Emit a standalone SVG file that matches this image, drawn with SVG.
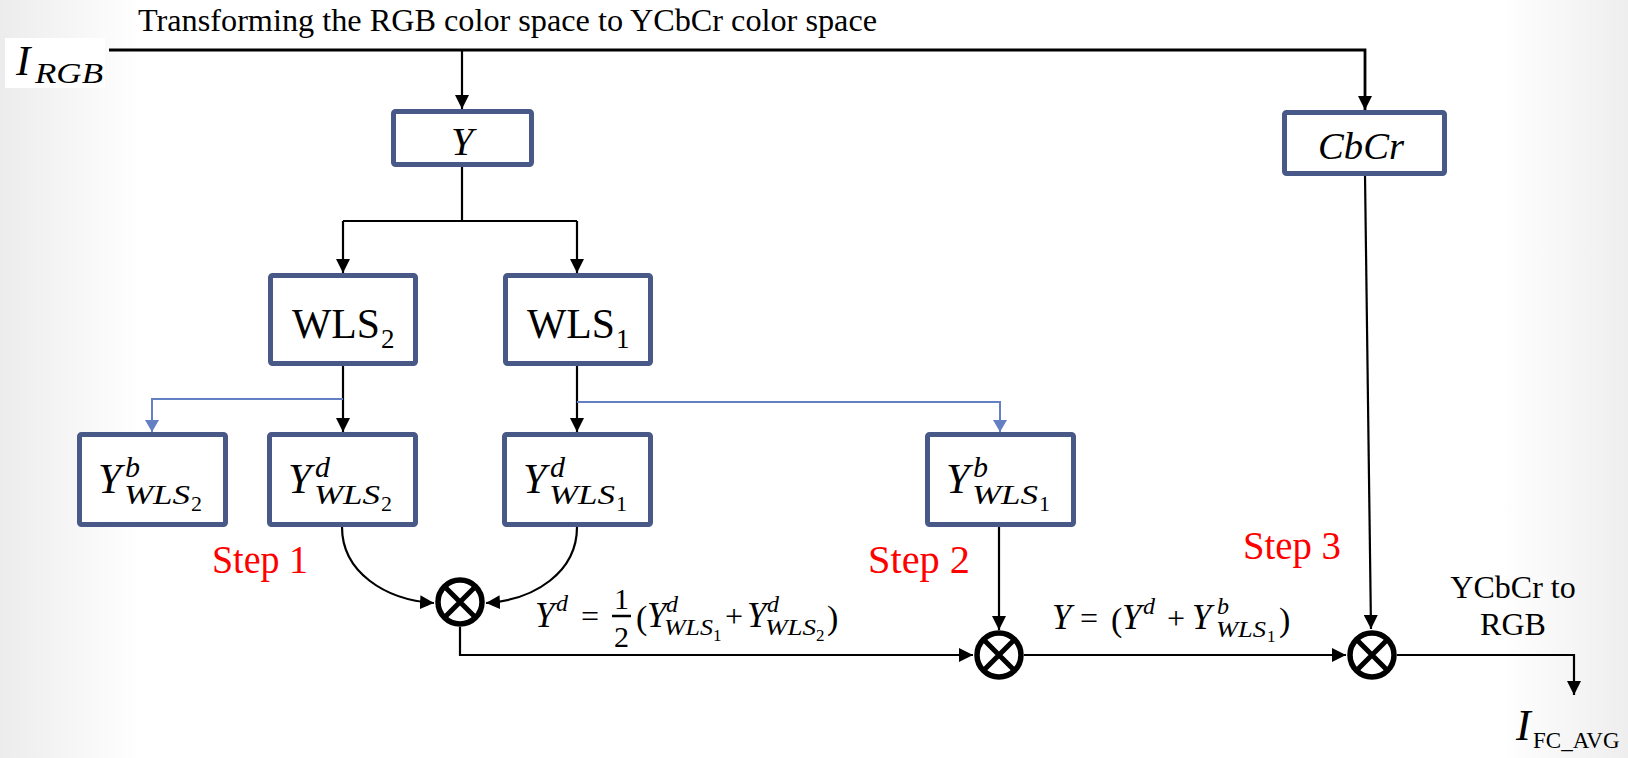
<svg xmlns="http://www.w3.org/2000/svg" width="1628" height="758" viewBox="0 0 1628 758">
<defs>
<linearGradient id="bgL" x1="0" y1="0" x2="1" y2="0">
<stop offset="0" stop-color="#ececec"/>
<stop offset="1" stop-color="#ffffff"/>
</linearGradient>
<linearGradient id="bgR" x1="0" y1="0" x2="1" y2="0">
<stop offset="0" stop-color="#ffffff"/>
<stop offset="1" stop-color="#eeeeee"/>
</linearGradient>
<marker id="ah" viewBox="0 0 14 14" refX="14" refY="7" markerWidth="14" markerHeight="14" markerUnits="userSpaceOnUse" orient="auto">
<path d="M0,0 L14,7 L0,14 z" fill="#000"/>
</marker>
<marker id="ahb" viewBox="0 0 12 14" refX="12" refY="7" markerWidth="12" markerHeight="14" markerUnits="userSpaceOnUse" orient="auto">
<path d="M0,0 L12,7 L0,14 z" fill="#6380C4"/>
</marker>
<style>
.box{fill:#fff;stroke:#485988;stroke-width:5}
.ln{fill:none;stroke:#000;stroke-width:2.2}
.main{fill:none;stroke:#000;stroke-width:2.8}
.bl{fill:none;stroke:#6380C4;stroke-width:2}
.op{fill:#fff;stroke:#000;stroke-width:5.5}
.opx{stroke:#000;stroke-width:5}
text{font-family:"Liberation Serif","Times New Roman",serif;fill:#000}
.it{font-style:italic}
.step{font-size:39px;fill:#ff0000}
.yb{font-size:42px;font-style:italic}
.ys{font-size:30px;font-style:italic}
.yw{font-size:27px;font-style:italic}
.yn{font-size:22px}
</style>
</defs>
<rect x="0" y="0" width="1628" height="758" fill="#fff"/>
<rect x="0" y="0" width="140" height="758" fill="url(#bgL)"/>
<rect x="1500" y="0" width="128" height="758" fill="url(#bgR)"/>
<rect x="5" y="38" width="100" height="50" fill="#fff"/>

<g id="connectors">
<path class="main" d="M109,50 H1365 V110" marker-end="url(#ah)"/>
<path class="ln" d="M462,50 V109" marker-end="url(#ah)"/>
<path class="ln" d="M462,167 V221 M343,221 H577"/>
<path class="ln" d="M343,221 V273" marker-end="url(#ah)"/>
<path class="ln" d="M577,221 V273" marker-end="url(#ah)"/>
<path class="ln" d="M343,366 V432" marker-end="url(#ah)"/>
<path class="bl" d="M343,399 H152 V432" marker-end="url(#ahb)"/>
<path class="ln" d="M577,366 V432" marker-end="url(#ah)"/>
<path class="bl" d="M577,402 H1000 V432" marker-end="url(#ahb)"/>
<path class="ln" d="M342,527 C342,572 385,600 434,603" marker-end="url(#ah)"/>
<path class="ln" d="M577,527 C577,572 535,600 486,603" marker-end="url(#ah)"/>
<path class="ln" d="M460,627 V655 H973" marker-end="url(#ah)"/>
<path class="ln" d="M999,527 V630" marker-end="url(#ah)"/>
<path class="ln" d="M1024,655 H1346" marker-end="url(#ah)"/>
<path class="ln" d="M1365,175 L1371,629" marker-end="url(#ah)"/>
<path class="ln" d="M1397,655 H1574 V695" marker-end="url(#ah)"/>
</g>

<g id="title"><text x="138" y="31" font-size="31" textLength="739" lengthAdjust="spacingAndGlyphs">Transforming the RGB color space to YCbCr  color space</text></g>
<g id="input"><text x="16" y="75" class="it" font-size="43">I<tspan x="35" y="83" font-size="29" textLength="68" lengthAdjust="spacingAndGlyphs">RGB</tspan></text></g>

<g id="node-Y"><rect class="box" x="393.5" y="111.5" width="138" height="53" rx="2"/><text x="462" y="155" class="it" font-size="40" text-anchor="middle">Y</text></g>
<g id="node-CbCr"><rect class="box" x="1284.5" y="112.5" width="160" height="61" rx="2"/><text x="1318" y="159" class="it" font-size="38" textLength="86" lengthAdjust="spacingAndGlyphs">CbCr</text></g>

<g id="node-WLS2"><rect class="box" x="270.5" y="275.5" width="145" height="88" rx="2"/><text x="292" y="338" font-size="42" textLength="88" lengthAdjust="spacingAndGlyphs">WLS</text><text x="381" y="348" font-size="27">2</text></g>
<g id="node-WLS1"><rect class="box" x="505.5" y="275.5" width="145" height="88" rx="2"/><text x="527" y="338" font-size="42" textLength="88" lengthAdjust="spacingAndGlyphs">WLS</text><text x="616" y="348" font-size="27">1</text></g>

<g id="node-YbWLS2"><rect class="box" x="79.5" y="434.5" width="146" height="90" rx="2"/>
<text x="98" y="493" class="yb">Y</text><text x="125" y="477" class="ys">b</text><text x="124" y="504" class="yw" textLength="66" lengthAdjust="spacingAndGlyphs">WLS</text><text x="191" y="511" class="yn">2</text></g>
<g id="node-YdWLS2"><rect class="box" x="269.5" y="434.5" width="146" height="90" rx="2"/>
<text x="288" y="493" class="yb">Y</text><text x="315" y="477" class="ys">d</text><text x="314" y="504" class="yw" textLength="66" lengthAdjust="spacingAndGlyphs">WLS</text><text x="381" y="511" class="yn">2</text></g>
<g id="node-YdWLS1"><rect class="box" x="504.5" y="434.5" width="146" height="90" rx="2"/>
<text x="523" y="493" class="yb">Y</text><text x="550" y="477" class="ys">d</text><text x="549" y="504" class="yw" textLength="66" lengthAdjust="spacingAndGlyphs">WLS</text><text x="616" y="511" class="yn">1</text></g>
<g id="node-YbWLS1"><rect class="box" x="927.5" y="434.5" width="146" height="90" rx="2"/>
<text x="946" y="493" class="yb">Y</text><text x="973" y="477" class="ys">b</text><text x="972" y="504" class="yw" textLength="66" lengthAdjust="spacingAndGlyphs">WLS</text><text x="1039" y="511" class="yn">1</text></g>

<g id="op1"><circle class="op" cx="460" cy="602" r="22"/><path class="opx" d="M444.5,586.5 L475.5,617.5 M475.5,586.5 L444.5,617.5"/></g>
<g id="op2"><circle class="op" cx="999" cy="655" r="22"/><path class="opx" d="M983.5,639.5 L1014.5,670.5 M1014.5,639.5 L983.5,670.5"/></g>
<g id="op3"><circle class="op" cx="1372" cy="655" r="22"/><path class="opx" d="M1356.5,639.5 L1387.5,670.5 M1387.5,639.5 L1356.5,670.5"/></g>

<g id="steps">
<text class="step" x="212" y="573" textLength="96" lengthAdjust="spacingAndGlyphs">Step 1</text>
<text class="step" x="868" y="573" textLength="102" lengthAdjust="spacingAndGlyphs">Step 2</text>
<text class="step" x="1243" y="559" textLength="98" lengthAdjust="spacingAndGlyphs">Step 3</text>
</g>

<g id="eq1">
<text x="535" y="627" class="it" font-size="35">Y</text><text x="556" y="611" class="it" font-size="24">d</text>
<text x="581" y="627" font-size="32">=</text>
<text x="614" y="609" font-size="30">1</text><line x1="612" y1="616" x2="631" y2="616" stroke="#000" stroke-width="2.5"/><text x="614" y="647" font-size="30">2</text>
<text x="636" y="629" font-size="34">(</text>
<text x="647" y="627" class="it" font-size="35">Y</text><text x="666" y="612" class="it" font-size="24">d</text><text x="664" y="635" class="it" font-size="23" textLength="49" lengthAdjust="spacingAndGlyphs">WLS</text><text x="713" y="641" font-size="17">1</text>
<text x="725" y="627" font-size="32">+</text>
<text x="747" y="627" class="it" font-size="35">Y</text><text x="767" y="612" class="it" font-size="24">d</text><text x="765" y="635" class="it" font-size="23" textLength="51" lengthAdjust="spacingAndGlyphs">WLS</text><text x="816" y="641" font-size="17">2</text>
<text x="827" y="629" font-size="34">)</text>
</g>

<g id="eq2">
<text x="1052" y="629" class="it" font-size="35">Y</text>
<text x="1080" y="629" font-size="32">=</text>
<text x="1111" y="631" font-size="34">(</text>
<text x="1122" y="629" class="it" font-size="35">Y</text><text x="1143" y="614" class="it" font-size="24">d</text>
<text x="1167" y="629" font-size="32">+</text>
<text x="1192" y="629" class="it" font-size="35">Y</text><text x="1217" y="614" class="it" font-size="24">b</text><text x="1216" y="637" class="it" font-size="23" textLength="50" lengthAdjust="spacingAndGlyphs">WLS</text><text x="1267" y="642" font-size="17">1</text>
<text x="1279" y="631" font-size="34">)</text>
</g>

<g id="out-label">
<text x="1513" y="598" font-size="32" text-anchor="middle">YCbCr to</text>
<text x="1513" y="635" font-size="32" text-anchor="middle">RGB</text>
</g>
<g id="output"><text x="1516" y="740" class="it" font-size="44">I</text><text x="1533" y="748" font-size="23">FC_AVG</text></g>
</svg>
